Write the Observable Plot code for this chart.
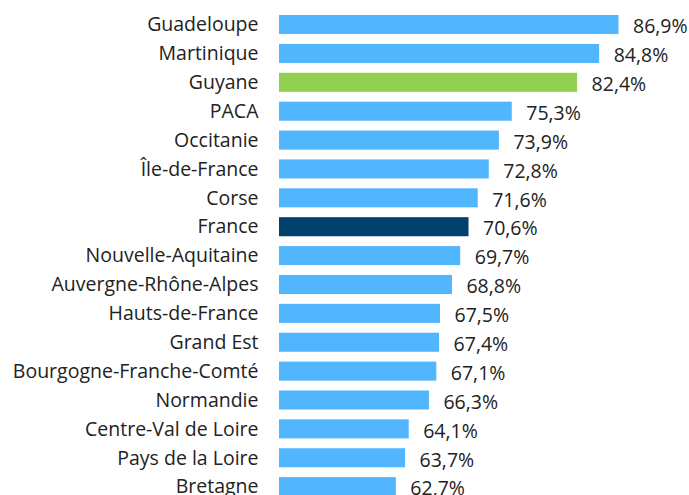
<!DOCTYPE html>
<html><head><meta charset="utf-8">
<script src="https://cdn.jsdelivr.net/npm/d3@7"></script>
<script src="https://cdn.jsdelivr.net/npm/@observablehq/plot@0.6"></script>
<style>html,body{margin:0;padding:0;background:#fff;overflow:hidden}</style>
</head><body><div id="chart"></div>
<script>
const regions = ["Guadeloupe","Martinique","Guyane","PACA","Occitanie","Île-de-France","Corse","France","Nouvelle-Aquitaine","Auvergne-Rhône-Alpes","Hauts-de-France","Grand Est","Bourgogne-Franche-Comté","Normandie","Centre-Val de Loire","Pays de la Loire","Bretagne"];
const values = [86.9,84.8,82.4,75.3,73.9,72.8,71.6,70.6,69.7,68.8,67.5,67.4,67.1,66.3,64.1,63.7,62.7];
const highlight = {"Guyane":"#92d050","France":"#02416e"};
const baseColor = "#52b6fe";

const data = regions.map((r,i)=>({region:r, value:values[i]}));
const fmt = v => v.toFixed(1).replace(".", ",") + "%";

const chart = Plot.plot({
  width: 689, height: 495,
  marginLeft: 279, marginRight: 42, marginTop: 0, marginBottom: 0,
  style: {fontFamily: "'Open Sans', sans-serif", fontSize: "19.5px", color: "#222", background: "#fff"},
  x: {domain: [50, 90], axis: null},
  y: {domain: regions, range: [5.2, 506], padding: 0.34, round: false, axis: null},
  marks: [
    Plot.barX(data, {x1: 50, x2: "value", y: "region", fill: d => highlight[d.region] || baseColor}),
    Plot.axisY({tickSize: 0, tickPadding: 21, fontSize: 19.5, fill: "#222", label: null}),
    Plot.text(data, {x: "value", y: "region", text: d => fmt(d.value), textAnchor: "start", dx: 14, dy: 2, fontSize: 19.5, fill: "#222"})
  ]
});
document.getElementById("chart").appendChild(chart);
</script>
</body></html>
